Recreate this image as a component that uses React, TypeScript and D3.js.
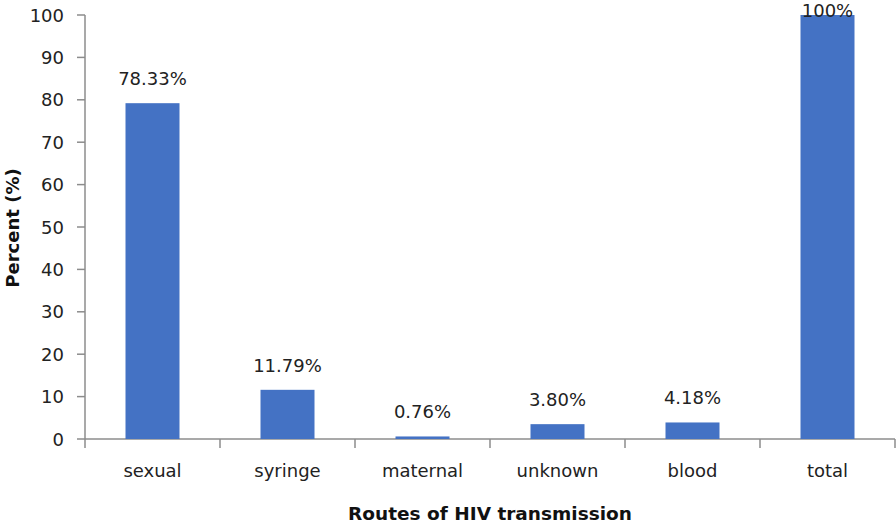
import React from "react";
import * as d3 from "d3";

const categories = ["sexual", "syringe", "maternal", "unknown", "blood", "total"];
const barValues = [79.2, 11.6, 0.6, 3.5, 3.9, 100];
const barLabels = ["78.33%", "11.79%", "0.76%", "3.80%", "4.18%", "100%"];
const yTicks = [0, 10, 20, 30, 40, 50, 60, 70, 80, 90, 100];

const W = 896;
const H = 526;
const left = 85;
const right = 895;
const top = 15;
const bottom = 439;
const font = "'DejaVu Sans', Verdana, sans-serif";
const axisColor = "#8c8c8c";

export default function App() {
  const x = d3.scaleBand<string>().domain(categories).range([left, right]).paddingInner(0.6).paddingOuter(0.3);
  const xb = d3.scaleBand<string>().domain(categories).range([left, right]);
  const y = d3.scaleLinear().domain([0, 100]).range([bottom, top]);

  return (
    <div style={{ position: "absolute", left: 0, top: 0 }}>
      <svg width={W} height={H} style={{ display: "block", background: "#fff" }}>
        {/* y axis */}
        <line x1={left} x2={left} y1={top} y2={bottom} stroke={axisColor} strokeWidth={1.5} />
        {yTicks.map((t) => (
          <g key={t}>
            <line x1={left - 8} x2={left} y1={y(t)} y2={y(t)} stroke={axisColor} strokeWidth={1.5} />
            <text x={left - 21} y={y(t) + 6.5} textAnchor="end" fontFamily={font} fontSize={18} fill="#222">
              {t}
            </text>
          </g>
        ))}
        {/* x axis */}
        <line x1={left} x2={right} y1={bottom} y2={bottom} stroke={axisColor} strokeWidth={1.5} />
        {[...categories.map((c) => xb(c) as number), right].map((p, i) => (
          <line key={i} x1={p} x2={p} y1={bottom} y2={bottom + 9} stroke={axisColor} strokeWidth={1.5} />
        ))}
        {/* bars */}
        {categories.map((c, i) => (
          <rect
            key={c}
            x={x(c)}
            y={y(barValues[i])}
            width={x.bandwidth()}
            height={bottom - y(barValues[i])}
            fill="#4472C4"
          />
        ))}
        {/* bar labels */}
        {categories.map((c, i) => (
          <text
            key={c}
            x={(x(c) as number) + x.bandwidth() / 2}
            y={Math.max(y(barValues[i]) - 18, 16.5)}
            textAnchor="middle"
            fontFamily={font}
            fontSize={18}
            fill="#222"
          >
            {barLabels[i]}
          </text>
        ))}
        {/* category labels */}
        {categories.map((c) => (
          <text
            key={c}
            x={(xb(c) as number) + xb.bandwidth() / 2}
            y={477}
            textAnchor="middle"
            fontFamily={font}
            fontSize={18}
            fill="#222"
          >
            {c}
          </text>
        ))}
        {/* axis titles */}
        <text x={490} y={520} textAnchor="middle" fontFamily={font} fontWeight="bold" fontSize={18.5} fill="#111">
          Routes of HIV transmission
        </text>
        <text
          transform={`translate(19,228) rotate(-90)`}
          textAnchor="middle"
          fontFamily={font}
          fontWeight="bold"
          fontSize={18}
          fill="#111"
        >
          Percent (%)
        </text>
      </svg>
    </div>
  );
}
